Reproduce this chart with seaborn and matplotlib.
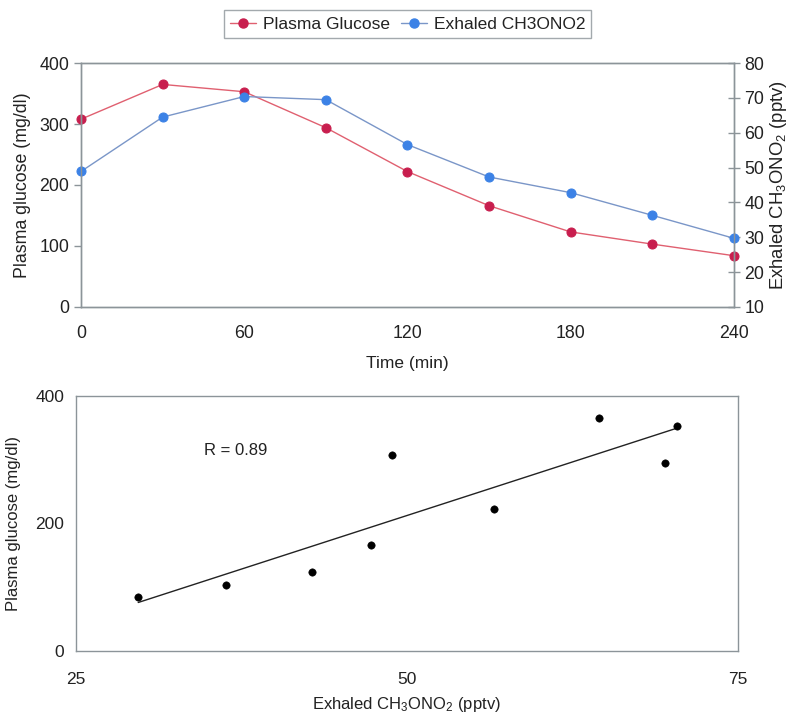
import numpy as np
import pandas as pd
import matplotlib
matplotlib.use("Agg")
import matplotlib.pyplot as plt
import seaborn as sns
from matplotlib.lines import Line2D

sns.set_theme(style="white")
plt.rcParams['font.family'] = ['Liberation Sans', 'DejaVu Sans']
plt.rcParams['mathtext.fontset'] = 'custom'
plt.rcParams['mathtext.rm'] = 'Liberation Sans'
plt.rcParams['mathtext.it'] = 'Liberation Sans'

# ---- data ----
time_min = [0, 30, 60, 90, 120, 150, 180, 210, 240]
plasma_glucose = [308, 365, 353, 294, 222, 166, 123, 103, 84]
exhaled_ch3ono2 = [48.9, 64.5, 70.4, 69.5, 56.6, 47.3, 42.8, 36.3, 29.7]
r_label = "R = 0.89"
time_ticks = [0, 60, 120, 180, 240]
glucose_ticks = [0, 100, 200, 300, 400]
exhaled_ticks = [10, 20, 30, 40, 50, 60, 70, 80]

df = pd.DataFrame({"time": time_min, "glucose": plasma_glucose, "exhaled": exhaled_ch3ono2})

red_m = "#C81E4E"
red_l = "#E06070"
blue_m = "#3C82E6"
blue_l = "#7A96C8"
spine_c = "#8C9499"
txt = "#222222"
msize = 6.5

fig = plt.figure(figsize=(7.95, 7.17), dpi=100)
ax1 = fig.add_axes([0.102, 0.572, 0.821, 0.340])
ax2 = ax1.twinx()
ax3 = fig.add_axes([0.0956, 0.0925, 0.8325, 0.3552])

sns.lineplot(data=df, x="time", y="glucose", ax=ax1, color=red_l, lw=1.0,
             marker="o", markersize=msize, markerfacecolor=red_m, markeredgecolor=red_m, clip_on=False)
sns.lineplot(data=df, x="time", y="exhaled", ax=ax2, color=blue_l, lw=1.0,
             marker="o", markersize=msize, markerfacecolor=blue_m, markeredgecolor=blue_m, clip_on=False)

ax1.set_xlim(0, 240)
ax1.set_ylim(0, 400)
ax2.set_ylim(10, 80)
ax1.set_xticks(time_ticks)
ax1.set_yticks(glucose_ticks)
ax2.set_yticks(exhaled_ticks)
ax1.set_xlabel("Time (min)", fontsize=12.5, color=txt, labelpad=10)
ax1.set_ylabel("Plasma glucose (mg/dl)", fontsize=12.8, color=txt, labelpad=6)
ax2.set_ylabel("Exhaled CH$_3$ONO$_2$ (pptv)", fontsize=13.3, color=txt, labelpad=3)

for ax in (ax1, ax2, ax3):
    for s in ax.spines.values():
        s.set_color(spine_c)
        s.set_linewidth(1.0)
    ax.tick_params(colors=spine_c, labelcolor=txt, labelsize=12.8, length=5, width=1, direction="out")
ax2.tick_params(axis="y", direction="inout", length=8)
ax1.tick_params(axis="x", pad=8)

# bottom scatter
sns.scatterplot(x=exhaled_ch3ono2, y=plasma_glucose, ax=ax3, color="black", s=28, edgecolor="black", zorder=3)
sns.regplot(x=exhaled_ch3ono2, y=plasma_glucose, ax=ax3, scatter=False, ci=None, truncate=True,
            line_kws={"color": "#222222", "lw": 1.0})
ax3.set_xlim(25, 75)
ax3.set_ylim(0, 400)
ax3.set_xticks([25, 50, 75])
ax3.set_yticks([0, 200, 400])
ax3.tick_params(axis="x", pad=10, labelsize=12.5)
ax3.tick_params(axis="y", labelsize=12.5)
ax3.set_xlabel("Exhaled CH$_3$ONO$_2$ (pptv)", fontsize=12, color=txt, labelpad=6)
ax3.set_ylabel("Plasma glucose (mg/dl)", fontsize=12, color=txt, labelpad=10)
ax3.text(34.7, 315, r_label, fontsize=12, color=txt, va="center", ha="left")

handles = [
    Line2D([], [], color=red_l, lw=1.0, marker="o", markersize=msize, markerfacecolor=red_m, markeredgecolor=red_m),
    Line2D([], [], color=blue_l, lw=1.0, marker="o", markersize=msize, markerfacecolor=blue_m, markeredgecolor=blue_m),
]
leg = fig.legend(handles, ["Plasma Glucose", "Exhaled CH3ONO2"], loc="center", bbox_to_anchor=(0.513, 0.9665),
                 ncol=2, fontsize=12.5, frameon=True, fancybox=False, edgecolor=spine_c,
                 handlelength=1.5, handletextpad=0.4, columnspacing=0.6, borderpad=0.35, borderaxespad=0.2)
leg.get_frame().set_linewidth(1.0)
for t in leg.get_texts():
    t.set_color(txt)

fig.savefig("out.png", dpi=100)
